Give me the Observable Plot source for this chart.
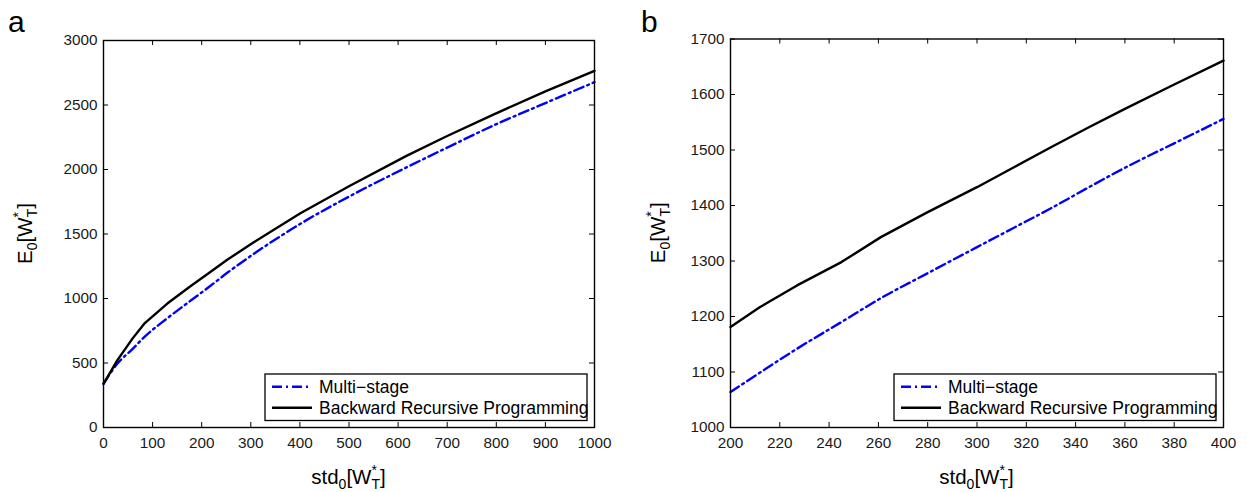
<!DOCTYPE html>
<html><head><meta charset="utf-8">
<script src="https://cdn.jsdelivr.net/npm/d3@7"></script>
<script src="https://cdn.jsdelivr.net/npm/@observablehq/plot@0.6"></script>
<style>
body{margin:0;background:#fff;}
#wrap{position:relative;width:1252px;height:492px;overflow:hidden;font-family:"Liberation Sans",Arial,sans-serif;background:#fff;}
#wrap svg{position:absolute;top:0;}
</style></head><body><div id="wrap"></div>
<script>
// ---- Panel a data ----
const stdA   = [0, 28, 59, 83, 130, 177, 214, 252, 306, 401, 500, 618, 700, 794, 900, 1000];
const multiA = [339, 494, 608, 701, 847, 982, 1087, 1199, 1346, 1579, 1790, 2018, 2170, 2341, 2515, 2677];
const brpA   = [339, 520, 689, 805, 961, 1095, 1195, 1300, 1436, 1661, 1870, 2108, 2260, 2426, 2606, 2765];
const xTicksA = [0, 100, 200, 300, 400, 500, 600, 700, 800, 900, 1000];
const yTicksA = [0, 500, 1000, 1500, 2000, 2500, 3000];

// ---- Panel b data ----
const stdB   = [200, 212, 227, 245, 261, 280, 300, 315, 330, 345, 360, 380, 400];
const multiB = [1064, 1099, 1142, 1190, 1233, 1278, 1325, 1360, 1395, 1432, 1468, 1512, 1556];
const brpB   = [1181, 1217, 1256, 1298, 1343, 1388, 1433, 1469, 1505, 1540, 1574, 1618, 1661];
const xTicksB = [200, 220, 240, 260, 280, 300, 320, 340, 360, 380, 400];
const yTicksB = [1000, 1100, 1200, 1300, 1400, 1500, 1600, 1700];

const seriesNames = ["Multi\u2212stage", "Backward Recursive Programming"];
const panelLetters = ["a", "b"];

const FONT = "Liberation Sans, Arial, sans-serif";
const wrap = document.getElementById("wrap");
const DASH = "10,4,2,4";

function panel(cfg) {
  const {left, width, height, mt, mr, mb, ml, xs, m, b, xd, yd, xt, yt, letter} = cfg;
  const W = width - ml - mr, H = height - mt - mb;
  const multi = xs.map((x, i) => ({x, y: m[i]}));
  const brp = xs.map((x, i) => ({x, y: b[i]}));
  const svg = Plot.plot({
    width, height, marginTop: mt, marginRight: mr, marginBottom: mb, marginLeft: ml,
    style: {fontFamily: FONT, fontSize: "15px", background: "transparent", color: "#1a1a1a"},
    x: {domain: xd}, y: {domain: yd},
    marks: [
      Plot.line(multi, {x: "x", y: "y", stroke: "#0000ff", strokeWidth: 2.4, strokeDasharray: DASH, curve: "monotone-x"}),
      Plot.line(brp, {x: "x", y: "y", stroke: "#000", strokeWidth: 2.4}),
      Plot.tickX(xt, {x: d => d, insetTop: H - 5, stroke: "#000"}),
      Plot.tickX(xt, {x: d => d, insetBottom: H - 5, stroke: "#000"}),
      Plot.tickY(yt, {y: d => d, insetRight: W - 5, stroke: "#000"}),
      Plot.tickY(yt, {y: d => d, insetLeft: W - 5, stroke: "#000"}),
      Plot.axisX(xt, {tickSize: 0, tickPadding: 10, fontSize: 15.3, label: null, fill: "#1a1a1a", tickFormat: d => String(d)}),
      Plot.axisY(yt, {tickSize: 0, tickPadding: 6, fontSize: 15.3, label: null, fill: "#1a1a1a", tickFormat: d => String(d)}),
      Plot.frame({stroke: "#000", strokeWidth: 1.4})
    ]
  });
  svg.style.left = left + "px";
  wrap.appendChild(svg);
  const s = d3.select(svg);

  // panel letter
  s.append("text").attr("x", cfg.letterX).attr("y", 32).attr("font-size", 30)
    .attr("text-anchor", "start").attr("font-family", FONT).attr("fill", "#000").text(letter);

  // axis labels with sub/superscripts
  function label(x, y, rot, head) {
    const t = s.append("text").attr("font-family", FONT).attr("font-size", 20.5).attr("fill", "#000")
      .attr("text-anchor", "middle")
      .attr("transform", `translate(${x},${y}) rotate(${rot})`);
    t.append("tspan").text(head);
    t.append("tspan").attr("font-size", 14).attr("dy", 5).text("0");
    t.append("tspan").attr("dy", -5).text("[W");
    t.append("tspan").attr("font-size", 14).attr("dy", -9).text("*");
    t.append("tspan").attr("font-size", 14).attr("dx", -5.4).attr("dy", 14).text("T");
    t.append("tspan").attr("dy", -5).text("]");
  }
  label(ml + W / 2, 484, 0, "std");
  label(cfg.yLabX, mt + H / 2, -90, "E");

  // legend
  const x0 = ml + W - 7 - 322, y0 = 374;
  const lg = s.append("g");
  lg.append("rect").attr("x", x0).attr("y", y0).attr("width", 322).attr("height", 46.5)
    .attr("fill", "#fff").attr("stroke", "#000").attr("stroke-width", 1.3);
  const rows = [
    {y: 386.7, stroke: "#0000ff", dash: DASH, name: seriesNames[0]},
    {y: 407.7, stroke: "#000", dash: null, name: seriesNames[1]}
  ];
  rows.forEach(r => {
    lg.append("line").attr("x1", x0 + 7).attr("x2", x0 + 47).attr("y1", r.y).attr("y2", r.y)
      .attr("stroke", r.stroke).attr("stroke-width", 2.4).attr("stroke-dasharray", r.dash);
    lg.append("text").attr("x", x0 + 54).attr("y", r.y + 6.3).attr("font-size", 17.5)
      .attr("text-anchor", "start").attr("font-family", FONT).attr("fill", "#000").text(r.name);
  });
}

panel({left: 0, width: 626, height: 492, mt: 40, mr: 32, mb: 65, ml: 103,
  xs: stdA, m: multiA, b: brpA, xd: [0, 1000], yd: [0, 3000], xt: xTicksA, yt: yTicksA,
  letter: panelLetters[0], letterX: 8, yLabX: 32});
panel({left: 626, width: 626, height: 492, mt: 38.5, mr: 29, mb: 65, ml: 104,
  xs: stdB, m: multiB, b: brpB, xd: [200, 400], yd: [1000, 1700], xt: xTicksB, yt: yTicksB,
  letter: panelLetters[1], letterX: 15, yLabX: 39});
</script></body></html>
